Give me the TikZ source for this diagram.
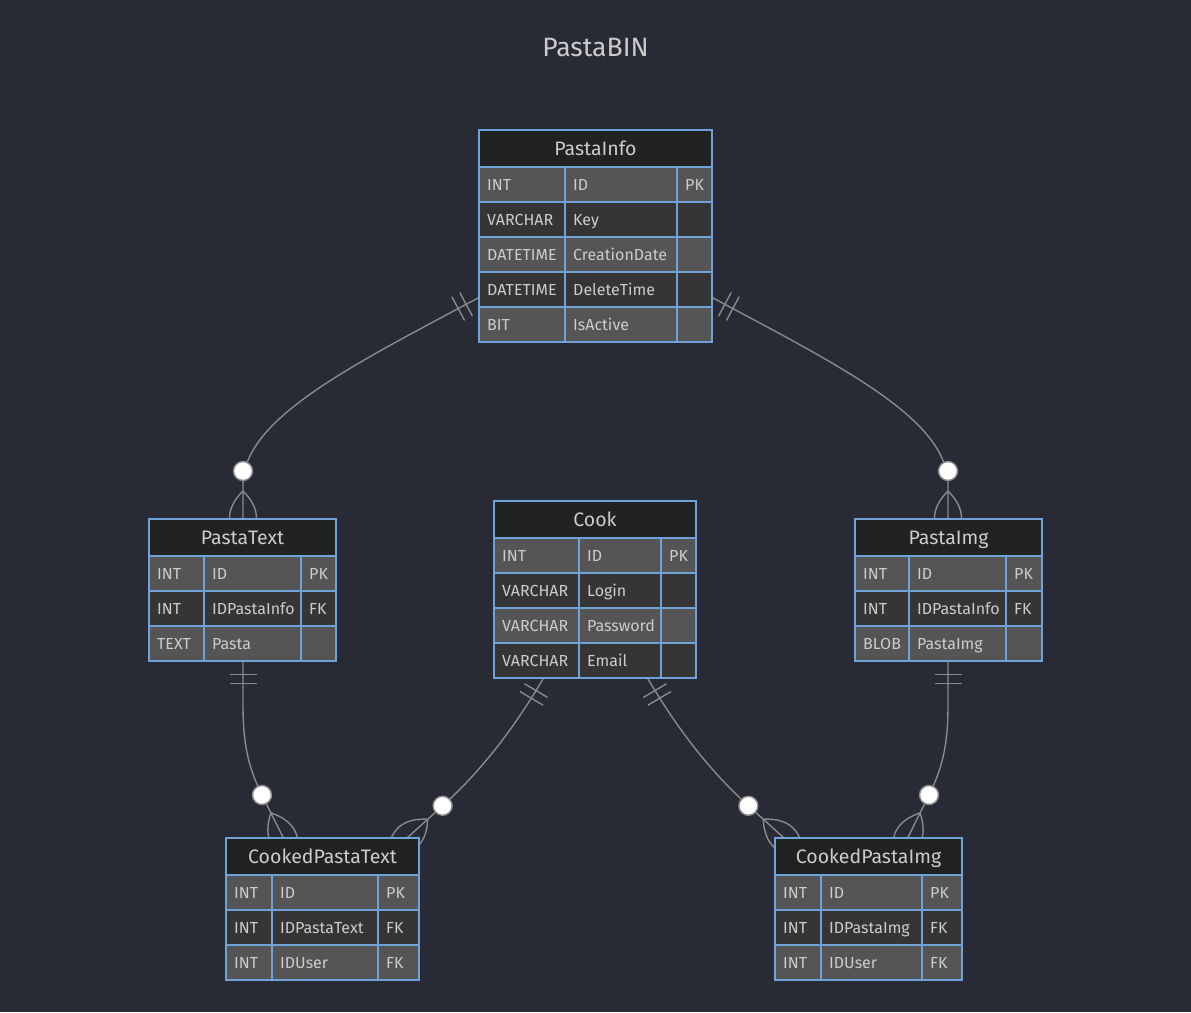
\documentclass[tikz,border=0pt]{standalone}
\usepackage{fontspec}
\setmainfont{Fira Sans}
\usetikzlibrary{calc}
\definecolor{bg}{HTML}{282A36}
\definecolor{hdr}{HTML}{212222}
\definecolor{rowA}{HTML}{555555}
\definecolor{rowB}{HTML}{353535}
\definecolor{bord}{HTML}{6FA2D6}
\definecolor{txt}{HTML}{CCCCCC}
\definecolor{lin}{HTML}{8A8A8A}
\tikzset{
  cellbox/.style={draw=bord, line width=1.6pt},
  tablenode/.style={draw=none, inner sep=0pt, outer sep=0pt, rectangle},
  celltext/.style={text=txt, inner sep=0pt, anchor=base west, font=\fontsize{16}{16}\selectfont},
  hdrtext/.style={text=txt, inner sep=0pt, anchor=base, font=\fontsize{19.5}{19.5}\selectfont},
  titletext/.style={text=txt, inner sep=0pt, anchor=base, font=\fontsize{26.5}{26.5}\selectfont},
  conn/.style={draw=lin, line width=1.4pt},
}
% name, x0, x1, x2, x3, ytop, nrows, title, rows
\newcommand{\ertable}[9]{%
  \node[tablenode, anchor=north west, minimum width={(#5-#2)*1pt}, minimum height={(37+35*#7)*1pt}] (#1) at (#2,#6) {};
  \draw[cellbox, fill=hdr] (#2,#6) rectangle (#5,#6+37);
  \node[hdrtext] at ({(#2+#5)/2},#6+25.5) {#8};
  \foreach \t/\f/\k [count=\i] in {#9} {
    \pgfmathsetmacro\yt{#6+37+35*(\i-1)}
    \ifodd\i\def\rf{rowA}\else\def\rf{rowB}\fi
    \draw[cellbox, fill=\rf] (#2,\yt) rectangle (#3,\yt+35);
    \draw[cellbox, fill=\rf] (#3,\yt) rectangle (#4,\yt+35);
    \draw[cellbox, fill=\rf] (#4,\yt) rectangle (#5,\yt+35);
    \node[celltext] at (#2+8,\yt+23) {\t};
    \node[celltext] at (#3+8,\yt+23) {\f};
    \node[celltext] at (#4+8,\yt+23) {\k};
  }
  \draw[cellbox] (#2,#6) rectangle (#5,#6+37+35*#7);
}
% local frame: origin at endpoint, x along d, y along n (pixel coords, y down)
\tikzset{markerframe/.style n args={5}{shift={(#1)},
  x={({(#2)*1pt},{0-(#3)*1pt})}, y={({(#4)*1pt},{0-(#5)*1pt})}}}
% zero-or-more marker: endpoint, d (toward circle), n
\newcommand{\zeromany}[5]{%
  \begin{scope}[markerframe={#1}{#2}{#3}{#4}{#5}]
    \draw[conn] (28,0) .. controls (10,18) and (-8,18) .. (-26,0);
    \draw[conn] (28,0) .. controls (10,-18) and (-8,-18) .. (-26,0);
    \draw[conn, fill=white] (48,0) circle[radius=9.5];
  \end{scope}}
% exactly-one marker: endpoint, d (away from table), n
\newcommand{\onlyone}[5]{%
  \begin{scope}[markerframe={#1}{#2}{#3}{#4}{#5}]
    \draw[conn] (13.5,-13.5) -- (13.5,13.5);
    \draw[conn] (22.5,-13.5) -- (22.5,13.5);
  \end{scope}}
\begin{document}
\begin{tikzpicture}[x=1pt, y=-1pt]
\useasboundingbox[fill=bg] (0,0) rectangle (1191,1012);
\node[titletext] (title) at (595.5,56.7) {PastaBIN};

% endpoints
\coordinate (piL) at (478,298);
\coordinate (piR) at (713,298);
\coordinate (ptT) at (243,519);
\coordinate (pmT) at (948,519);
\coordinate (ptB) at (243,661);
\coordinate (pmB) at (948,661);
\coordinate (ckL) at (543,679);
\coordinate (ckR) at (648,679);
\coordinate (cptL) at (283.4,838);
\coordinate (cptR) at (407,838);
\coordinate (cpiL) at (784,838);
\coordinate (cpiR) at (907.6,838);

% connectors
\draw[conn] (piL) .. controls (346,368.5) and (243,420) .. (243,485) -- (ptT);
\draw[conn] (piR) .. controls (845,368.5) and (948,420) .. (948,485) -- (pmT);
\draw[conn] (ptB) -- (243,705) .. controls (243,745) and (248.6,768) .. (262,795) -- (cptL);
\draw[conn] (pmB) -- (948,705) .. controls (948,745) and (942.4,768) .. (929,795) -- (cpiR);
\draw[conn] (ckL) .. controls (515,726.3) and (483.4,768.9) .. (442.6,805.8) -- (cptR);
\draw[conn] (ckR) .. controls (676,726.3) and (707.6,768.9) .. (748.4,805.8) -- (cpiL);

% markers
\onlyone{piL}{-0.88}{0.47}{0.47}{0.88}
\onlyone{piR}{0.88}{0.47}{-0.47}{0.88}
\onlyone{ptB}{0}{1}{1}{0}
\onlyone{pmB}{0}{1}{1}{0}
\onlyone{ckL}{-0.51}{0.86}{0.86}{0.51}
\onlyone{ckR}{0.51}{0.86}{-0.86}{0.51}
\zeromany{ptT}{0}{-1}{1}{0}
\zeromany{pmT}{0}{-1}{1}{0}
\zeromany{cptL}{-0.446}{-0.896}{0.896}{-0.446}
\zeromany{cpiR}{0.446}{-0.896}{0.896}{0.446}
\zeromany{cptR}{0.742}{-0.671}{0.671}{0.742}
\zeromany{cpiL}{-0.742}{-0.671}{0.671}{-0.742}

% tables
\ertable{PastaInfo}{479}{565}{677}{712}{130}{5}{PastaInfo}{INT/ID/PK, VARCHAR/Key/{}, DATETIME/CreationDate/{}, DATETIME/DeleteTime/{}, BIT/IsActive/{}}
\ertable{PastaText}{149}{204}{301}{336}{519}{3}{PastaText}{INT/ID/PK, INT/IDPastaInfo/FK, TEXT/Pasta/{}}
\ertable{Cook}{494}{579}{661}{696}{501}{4}{Cook}{INT/ID/PK, VARCHAR/Login/{}, VARCHAR/Password/{}, VARCHAR/Email/{}}
\ertable{PastaImg}{855}{909}{1006}{1042}{519}{3}{PastaImg}{INT/ID/PK, INT/IDPastaInfo/FK, BLOB/PastaImg/{}}
\ertable{CookedPastaText}{226}{272}{378}{419}{838}{3}{CookedPastaText}{INT/ID/PK, INT/IDPastaText/FK, INT/IDUser/FK}
\ertable{CookedPastaImg}{775}{821}{922}{962}{838}{3}{CookedPastaImg}{INT/ID/PK, INT/IDPastaImg/FK, INT/IDUser/FK}
\end{tikzpicture}
\end{document}
